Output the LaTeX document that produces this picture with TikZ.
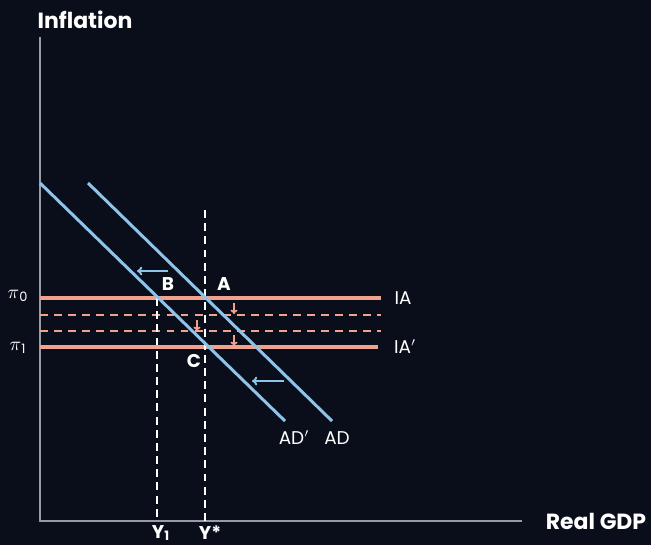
\documentclass[tikz,border=0pt]{standalone}
\usepackage{fontspec}
\setmainfont{Poppins}
\usetikzlibrary{arrows.meta}
\definecolor{bgnavy}{RGB}{10,14,26}
\definecolor{axisgray}{RGB}{150,155,165}
\definecolor{adblue}{RGB}{142,196,236}
\definecolor{iasalmon}{RGB}{240,162,142}
\tikzset{
  lbl/.style={text=white, inner sep=0pt, font=\fontsize{10.5}{12}\selectfont},
  ptlbl/.style={text=white, inner sep=0pt, font=\bfseries\fontsize{10.5}{12}\selectfont},
  axlbl/.style={text=white, inner sep=0pt, font=\bfseries\fontsize{12.5}{14}\selectfont},
  adline/.style={adblue, line width=1.7pt},
  ialine/.style={iasalmon, line width=2pt},
  iadash/.style={iasalmon, line width=1.3pt, dash pattern=on 4.5pt off 3.5pt},
  guide/.style={white, line width=1.1pt, dash pattern=on 4.5pt off 3pt},
  shiftarrow/.style={adblue, line width=1.1pt, -{To[length=3pt,width=5pt]}},
  droparrow/.style={iasalmon, line width=1pt, -{To[length=2.5pt,width=4pt]}}
}
\begin{document}
\begin{tikzpicture}[x=0.02cm, y=-0.02cm]
\fill[bgnavy] (0,0) rectangle (651,545);
\useasboundingbox (0,0) rectangle (651,545);
\coordinate (O) at (40,521);
\coordinate (yTop) at (40,37);
\coordinate (xEnd) at (522,521);
\coordinate (adS) at (88,183);
\coordinate (adE) at (332,421);
\coordinate (adpS) at (40,183);
\coordinate (adpE) at (285,421);
\coordinate (iaS) at (40,298);
\coordinate (iaE) at (381,298);
\coordinate (iapS) at (40,347);
\coordinate (iapE) at (378,347);
\coordinate (d1S) at (40,315);
\coordinate (d1E) at (381,315);
\coordinate (d2S) at (40,331);
\coordinate (d2E) at (381,331);
\coordinate (yStarTop) at (205,210);
\coordinate (yStarBot) at (205,521);
\coordinate (yOneTop) at (157,298);
\coordinate (yOneBot) at (157,521);
\coordinate (shA) at (168,271);
\coordinate (shB) at (137,271);
\coordinate (shC) at (284,381);
\coordinate (shD) at (252,381);
\coordinate (dpA) at (234,303);
\coordinate (dpB) at (234,314);
\coordinate (dpC) at (197,320);
\coordinate (dpD) at (197,331);
\coordinate (dpE) at (234,335);
\coordinate (dpF) at (234,346);
\draw[axisgray, line width=0.7pt] (yTop) -- (O) -- (xEnd);
\node[axlbl] (infl) at (85,20) {Inflation};
\node[axlbl] (rgdp) at (596,521) {Real GDP};
\draw[iadash] (d1S) -- (d1E);
\draw[iadash] (d2S) -- (d2E);
\draw[ialine] (iaS) -- (iaE);
\draw[ialine] (iapS) -- (iapE);
\draw[guide] (yOneTop) -- (yOneBot);
\draw[guide] (yStarTop) -- (yStarBot);
\draw[adline] (adS) -- (adE);
\draw[adline] (adpS) -- (adpE);
\draw[shiftarrow] (shA) -- (shB);
\draw[shiftarrow] (shC) -- (shD);
\draw[droparrow] (dpA) -- (dpB);
\draw[droparrow] (dpC) -- (dpD);
\draw[droparrow] (dpE) -- (dpF);
\node[lbl] (piZero) at (18,296) {$\pi$\textsubscript{0}};
\node[lbl] (piOne) at (18,348) {$\pi$\textsubscript{1}};
\node[lbl] (ia) at (403,298) {IA};
\node[lbl] (iap) at (405,347) {IA$'$};
\node[ptlbl] (ptA) at (224,284) {A};
\node[ptlbl] (ptB) at (168,284) {B};
\node[ptlbl] (ptC) at (194,361) {C};
\node[lbl] (adp) at (294,438) {AD$'$};
\node[lbl] (ad) at (337,438) {AD};
\node[ptlbl] (yOne) at (161,533) {Y\textsubscript{1}};
\node[ptlbl] (yStar) at (210,533) {Y*};
\end{tikzpicture}
\end{document}
